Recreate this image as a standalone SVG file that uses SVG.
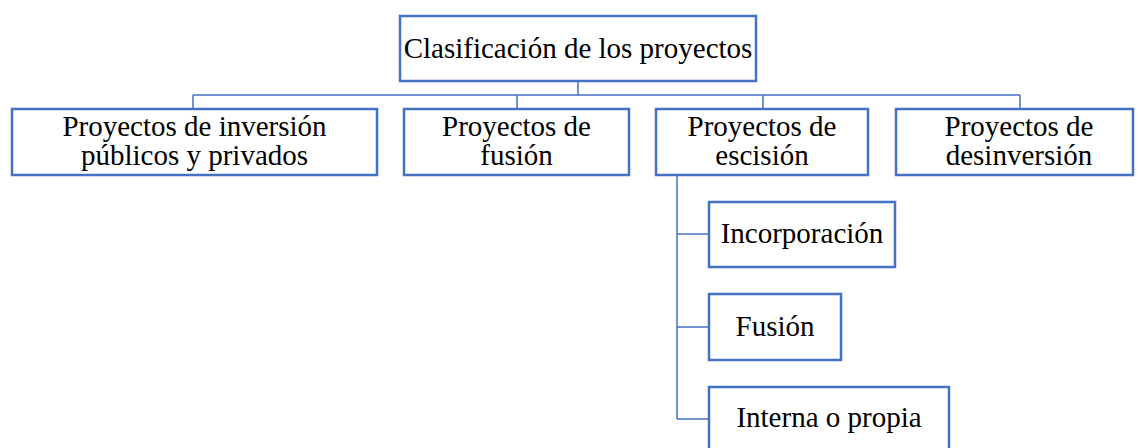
<svg xmlns="http://www.w3.org/2000/svg" width="1140" height="448" viewBox="0 0 1140 448">
<style>
.box{fill:#fff;stroke:#4472C4;stroke-width:2.5}
.t{font-family:"Liberation Serif","Times New Roman",serif;font-size:29px;fill:#000;text-anchor:middle}
.c{fill:none;stroke:#4472C4;stroke-width:1.5}
</style>
<rect width="1140" height="448" fill="#fff"/>
<g id="connectors">
<path class="c" d="M578 81V95M193 95H1020M193 95V109M517 95V109M763 95V109M1020 95V109"/>
<path class="c" d="M677 175V419M677 234H709M677 327H709M677 419H709"/>
</g>
<g id="root"><rect class="box" x="400" y="16" width="356" height="65"/><text class="t" x="578" y="58">Clasificación de los proyectos</text></g>
<g id="n1"><rect class="box" x="12" y="109" width="365" height="66"/><text class="t" x="194.5" y="136">Proyectos de inversión</text><text class="t" x="194.5" y="165">públicos y privados</text></g>
<g id="n2"><rect class="box" x="404" y="109" width="225" height="66"/><text class="t" x="516.5" y="136">Proyectos de</text><text class="t" x="516.5" y="165">fusión</text></g>
<g id="n3"><rect class="box" x="656" y="109" width="212" height="66"/><text class="t" x="762" y="136">Proyectos de</text><text class="t" x="762" y="165">escisión</text></g>
<g id="n4"><rect class="box" x="896" y="109" width="237" height="66"/><text class="t" x="1019" y="136">Proyectos de</text><text class="t" x="1019" y="165">desinversión</text></g>
<g id="n5"><rect class="box" x="709" y="202" width="186" height="65"/><text class="t" x="802" y="243">Incorporación</text></g>
<g id="n6"><rect class="box" x="709" y="294" width="132" height="66"/><text class="t" x="775" y="336">Fusión</text></g>
<g id="n7"><rect class="box" x="709" y="387" width="240" height="80"/><text class="t" x="829" y="427">Interna o propia</text></g>
</svg>
